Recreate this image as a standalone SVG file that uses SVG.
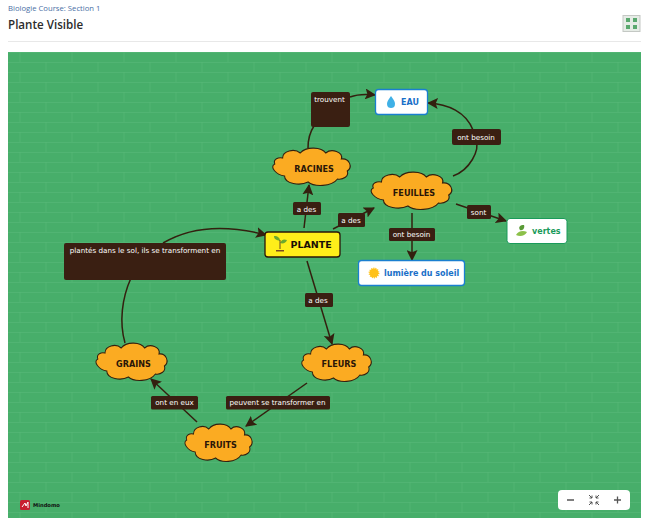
<svg xmlns="http://www.w3.org/2000/svg" width="650" height="529" viewBox="0 0 650 529">
<style>
.lb{fill:#3a1f12}
.lt{font:7.2px "DejaVu Sans",sans-serif;fill:#fff;text-anchor:middle}
.c{fill:none;stroke:#33200f;stroke-width:1.5;}
.a{marker-end:url(#ah)}
.cl{fill:#fbab22;stroke:#33200f;stroke-width:1.1;vector-effect:non-scaling-stroke}
.nt{font:bold 8.100px "DejaVu Sans",sans-serif;fill:#2a1608;text-anchor:middle}
.bx{fill:#fff;stroke:#1a7fd0;stroke-width:1.3}
.bt{font:bold 8px "DejaVu Sans",sans-serif;fill:#1a6fc8}
</style>
<defs>
<pattern id="br" width="52" height="20" patternUnits="userSpaceOnUse" x="8" y="52">
<path d="M0 .5H52M0 10.5H52M12 0V10M38 10V20" fill="none" stroke="#5cba7b" stroke-width="1" opacity=".5"/>
</pattern>
<marker id="ah" markerWidth="11" markerHeight="11" refX="9" refY="5" orient="auto" markerUnits="userSpaceOnUse" viewBox="0 0 10 10">
<path d="M0 0L10 5L0 10L2 5Z" fill="#33200f"/>
</marker>
<path id="cloud" d="M-30-9C-30-16-18-19-12-14C-6-21 10-20 14-14C20-19 32-15 30-8C38-9 42 0 36 4C38 9 32 13 26 12C20 20 2 20-4 15C-12 19-28 17-28 9C-36 8-44 0-38-3C-40-8-34-10-30-9Z"/>
</defs>
<rect width="650" height="529" fill="#fff"/>
<g id="header">
<text x="8" y="11" font-family="'Open Sans',sans-serif" font-size="7.700" fill="#4a6fa5">Biologie Course: Section 1</text>
<text x="8" y="29" font-family="'Open Sans',sans-serif" font-size="11.600" font-weight="600" fill="#2b2b2b">Plante Visible</text>
<line x1="8" y1="41.500" x2="641" y2="41.500" stroke="#e8e8e8"/>
<rect x="623" y="15.500" width="17" height="16" fill="#e6ece6" stroke="#c4c8c4"/>
<path d="M626 18h4v4h-4zM633 18h4v4h-4zM626 25h4v4h-4zM633 25h4v4h-4z" fill="#5aa86e"/>
</g>
<rect x="8" y="52" width="633" height="466" fill="#47ae6a"/>
<rect x="8" y="52" width="633" height="466" fill="url(#br)"/>
<g id="connectors">
<path class="c a" d="M304 228L309 185"/>
<path class="c a" d="M333 229L374 208"/>
<path class="c" d="M308 148C308 140 310 132 314 126"/>
<path class="c a" d="M350 97C358 94 366 94 375 95"/>
<path class="c" d="M453 176C470 170 480 150 476 140"/>
<path class="c a" d="M473 130C466 112 448 104 428 103"/>
<path class="c a" d="M412 213L412 260"/>
<path class="c a" d="M456 204L506 221"/>
<path class="c a" d="M307 261L332 344"/>
<path class="c a" d="M307 383L246 426"/>
<path class="c a" d="M197 422L151 379"/>
<path class="c" d="M125 343C119 322 122 298 131 278"/>
<path class="c a" d="M163 243C195 224 232 226 266 235"/>
</g>
<g id="label-trouvent"><rect class="lb" x="311" y="92" width="39" height="35" rx="2"/><text class="lt" x="329.500" y="101.500">trouvent</text></g>
<g id="label-adesr"><rect class="lb" x="293" y="202" width="28" height="13" rx="1.500"/><text class="lt" x="306.500" y="211.500">a des</text></g>
<g id="label-adesf"><rect class="lb" x="338" y="213" width="27" height="14" rx="1.500"/><text class="lt" x="351" y="222.500">a des</text></g>
<g id="label-ontbesoin1"><rect class="lb" x="452" y="129" width="49" height="16" rx="2"/><text class="lt" x="476" y="139.500">ont besoin</text></g>
<g id="label-ontbesoin2"><rect class="lb" x="389" y="228" width="46" height="13" rx="1.500"/><text class="lt" x="411.500" y="237">ont besoin</text></g>
<g id="label-sont"><rect class="lb" x="467" y="205" width="24" height="14" rx="1.500"/><text class="lt" x="478.500" y="214.500">sont</text></g>
<g id="label-plantes"><rect class="lb" x="64" y="243" width="162" height="37" rx="2"/><text class="lt" x="145" y="253">plantés dans le sol, ils se transforment en</text></g>
<g id="label-adesfl"><rect class="lb" x="305" y="293" width="28" height="14" rx="1.500"/><text class="lt" x="318" y="302.500">a des</text></g>
<g id="label-peuvent"><rect class="lb" x="226" y="396" width="104" height="13.500" rx="1.500"/><text class="lt" x="277.500" y="405">peuvent se transformer en</text></g>
<g id="label-ontenseux"><rect class="lb" x="151" y="396" width="47" height="13.500" rx="1.500"/><text class="lt" x="174.500" y="405">ont en eux</text></g>
<g id="racines"><use href="#cloud" class="cl" transform="translate(312 167) scale(.98 1)"/><text class="nt" x="314" y="171.500">RACINES</text></g>
<g id="feuilles"><use href="#cloud" class="cl" transform="translate(412 191) scale(1.020 1)"/><text class="nt" x="414" y="196">FEUILLES</text></g>
<g id="grains"><use href="#cloud" class="cl" transform="translate(132 362) scale(.9 1)"/><text class="nt" x="133.500" y="366.500">GRAINS</text></g>
<g id="fleurs"><use href="#cloud" class="cl" transform="translate(337 363) scale(.88 1)"/><text class="nt" x="339" y="367">FLEURS</text></g>
<g id="fruits"><use href="#cloud" class="cl" transform="translate(219 443) scale(.85 1)"/><text class="nt" x="220.500" y="448">FRUITS</text></g>
<g id="plante"><rect x="265" y="232" width="75" height="25" rx="3" fill="#ffee1a" stroke="#2a1608" stroke-width="1.300"/>
<path d="M280 241C276 240 274 239 274 236C278 236 280 238 280 241ZM280 243C282 239 284 239 287 240C286 243 283 244 280 243Z" fill="#6aa82e"/><path d="M280 240V249" stroke="#6b4a22" stroke-width="1"/><path d="M276 250H284V251.500H276Z" fill="#7a4a22"/>
<text x="290.500" y="248" font-family="'DejaVu Sans',sans-serif" font-weight="bold" font-size="9.500" fill="#1a0f05">PLANTE</text></g>
<g id="eau"><rect class="bx" x="375.500" y="89.500" width="52" height="25" rx="3"/>
<path d="M391 96C388 100 387 102 387 104C387 107 389 108 391 108C393 108 395 107 395 104C395 102 394 100 391 96Z" fill="#3fb0e6"/>
<text class="bt" x="401" y="105">EAU</text></g>
<g id="lumiere"><rect class="bx" x="358.500" y="260.500" width="106" height="25" rx="3"/>
<circle cx="374" cy="273" r="4.500" fill="#ffc21a" stroke="#ffc21a" stroke-width="1.800" stroke-dasharray="1 1"/>
<text class="bt" x="384" y="276">lumière du soleil</text></g>
<g id="vertes"><rect x="507" y="218.500" width="60" height="25" rx="3" fill="#fff" stroke="#1a9a5a" stroke-width="1"/>
<path d="M516 235C518 231 523 230 527 232C525 236 520 237 516 235Z" fill="#8cc04a"/><path d="M520 230C518 227 520 225 524 225C525 228 523 231 520 230Z" fill="#5a9a36"/>
<text x="532" y="234" font-family="'DejaVu Sans',sans-serif" font-weight="bold" font-size="8" fill="#1a9a5a">vertes</text></g>
<g id="logo"><rect x="20" y="500" width="10" height="10" rx="1.500" fill="#c8202f"/><path d="M22 507L25 503L26 506L28 502V508" fill="none" stroke="#fff" stroke-width="1"/>
<text x="33" y="507" font-family="'DejaVu Sans',sans-serif" font-weight="bold" font-size="5.200" fill="#111">Mindomo</text></g>
<g id="zoom"><rect x="558" y="490" width="72" height="20" rx="4" fill="#fff"/>
<path d="M567 500H574M614 500H621M617.500 496.500V503.500" stroke="#555" stroke-width="1.300" fill="none"/>
<path d="M589 495L592 498M599 495L596 498M589 505L592 502M599 505L596 502M592 495.500V498H589.500M596 495.500V498H598.500M592 504.500V502H589.500M596 504.500V502H598.500" stroke="#444" stroke-width=".9" fill="none"/></g>
</svg>
